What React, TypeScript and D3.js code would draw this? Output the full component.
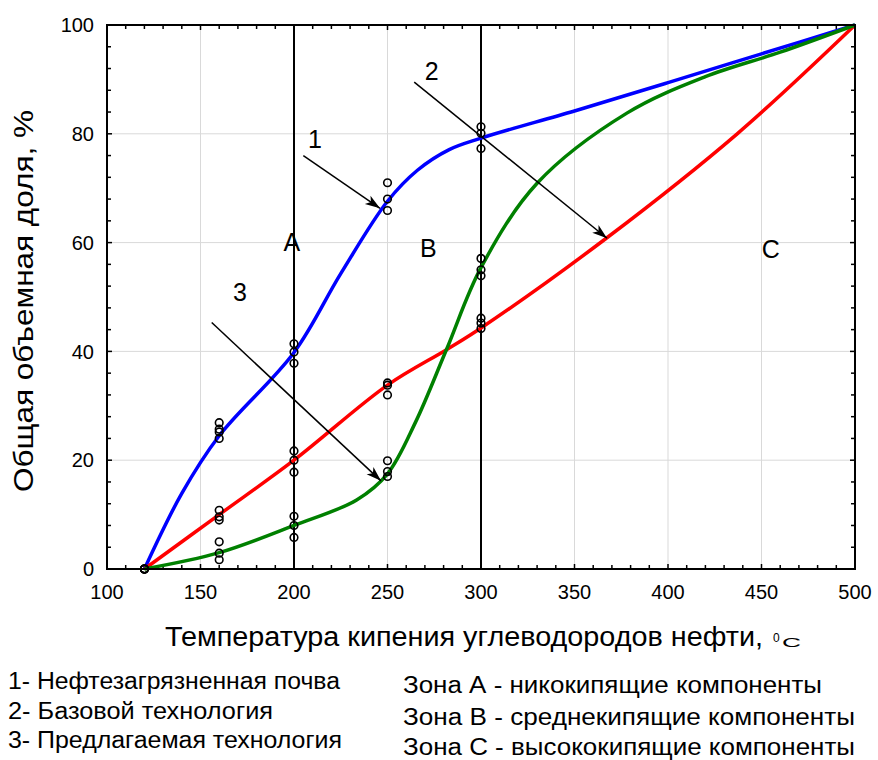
import React from 'react';
import * as d3 from 'd3';

// observed temperatures (°C) and the measured points at each
const obsTemps = [120, 160, 200, 250, 300];
const soilObs = [[0, 0], [26.9, 25.7, 25.2, 24.0], [41.4, 39.9, 37.8], [71.0, 68.0, 65.9], [81.3, 80.1, 77.3]];
const baseObs = [[0, 0], [10.8, 9.6, 9.0], [21.7, 20.0, 17.8], [34.2, 33.8, 32.0], [46.1, 45.2, 44.2]];
const newObs = [[0, 0], [5.0, 2.9, 1.7], [9.7, 8.0, 5.8], [19.9, 17.9, 17.0], [57.1, 55.0, 53.9]];

// fitted curves
const soilT = [120, 140, 160, 200, 225, 250, 266, 283, 300, 350, 400, 450, 500];
const soilV = [0, 13.9, 24.5, 39.8, 54.3, 67.6, 73.3, 77.1, 79.2, 84.2, 89.4, 94.7, 100];
const baseT = [120, 160, 200, 250, 282, 300, 367, 437, 500];
const baseV = [0, 10, 20, 33.8, 40.4, 44.3, 60.8, 80, 100];
const newT = [120, 160, 200, 233.5, 250, 265, 281.6, 300, 330, 378, 420, 460, 500];
const newV = [0, 3, 8, 12.7, 17.5, 27, 40.4, 55.4, 70.9, 83.8, 90.5, 95, 100];

const xTicks = [100, 150, 200, 250, 300, 350, 400, 450, 500];
const yTicks = [0, 20, 40, 60, 80, 100];
const zoneBounds = [200, 300];

const zoneLabels = [
  { t: 198.8, v: 58.5, text: 'A' },
  { t: 271.8, v: 57.4, text: 'B' },
  { t: 454.9, v: 57.1, text: 'C' },
];
const curveLabels = [
  { t: 211.2, v: 77.3, text: '1' },
  { t: 273.6, v: 89.9, text: '2' },
  { t: 171.1, v: 49.3, text: '3' },
];
const arrows = [
  { from: [205, 76.0], to: [246, 66.3] },
  { from: [264.3, 89.5], to: [367.4, 60.8] },
  { from: [156, 45.3], to: [246.5, 16.2] },
];

const legendLeft = ['1- Нефтезагрязненная почва', '2- Базовой технология', '3- Предлагаемая технология'];
const legendRight = ['Зона А - никокипящие компоненты', 'Зона В - среднекипящие компоненты', 'Зона С - высококипящие компоненты'];

const FONT = 'Liberation Sans, Arial, sans-serif';

export default function App() {
  const width = 878, height = 760;
  const x = d3.scaleLinear().domain([100, 500]).range([107, 855]);
  const y = d3.scaleLinear().domain([0, 100]).range([569, 25]);

  const curves = [
    { t: soilT, v: soilV, color: '#0000ff' },
    { t: baseT, v: baseV, color: '#ff0000' },
    { t: newT, v: newV, color: '#008000' },
  ];

  const pathOf = (t: number[], v: number[]) =>
    d3.line<number>().x(i => x(t[i])).y(i => y(v[i])).curve(d3.curveCatmullRom.alpha(0.5))(d3.range(t.length));

  const minorX = d3.range(100, 501, 10);
  const minorY = d3.range(0, 101, 4);
  const [x0, x1] = x.range();
  const [y0, y1] = y.range();

  return (
    <svg width={width} height={height} style={{ position: 'absolute', left: 0, top: 0, background: '#fff' }}
      fontFamily={FONT}>
      <defs>
        <marker id="ah" viewBox="-16 -6 18 12" markerWidth="18" markerHeight="12" refX="0" refY="0"
          orient="auto" markerUnits="userSpaceOnUse">
          <path d="M0,0 L-15,-5 L-11,0 L-15,5 Z" fill="#000" />
        </marker>
      </defs>
      <rect width={width} height={height} fill="#fff" />

      {/* grid */}
      {xTicks.filter(t => t > 100 && t < 500).map(t => (
        <line key={'gx' + t} x1={x(t)} x2={x(t)} y1={y1} y2={y0} stroke="#d9d9d9" strokeWidth={1} />
      ))}
      {yTicks.filter(t => t > 0 && t < 100).map(t => (
        <line key={'gy' + t} x1={x0} x2={x1} y1={y(t)} y2={y(t)} stroke="#d9d9d9" strokeWidth={1} />
      ))}

      {/* zone borders */}
      {zoneBounds.map(t => (
        <line key={'z' + t} x1={x(t)} x2={x(t)} y1={y1} y2={y0} stroke="#000" strokeWidth={2} />
      ))}

      {/* minor ticks on all sides, inward */}
      {minorX.map(t => (
        <g key={'tx' + t}>
          <line x1={x(t)} x2={x(t)} y1={y0} y2={y0 - (t % 50 === 0 ? 5 : 4)} stroke="#000" strokeWidth={1.5} />
          <line x1={x(t)} x2={x(t)} y1={y1} y2={y1 + (t % 50 === 0 ? 5 : 4)} stroke="#000" strokeWidth={1.5} />
        </g>
      ))}
      {minorY.map(t => (
        <g key={'ty' + t}>
          <line x1={x0} x2={x0 + (t % 20 === 0 ? 5 : 4)} y1={y(t)} y2={y(t)} stroke="#000" strokeWidth={1.5} />
          <line x1={x1} x2={x1 - (t % 20 === 0 ? 5 : 4)} y1={y(t)} y2={y(t)} stroke="#000" strokeWidth={1.5} />
        </g>
      ))}

      {/* curves */}
      {curves.map((c, i) => (
        <path key={'c' + i} d={pathOf(c.t, c.v) || ''} fill="none" stroke={c.color} strokeWidth={3.5} />
      ))}

      {/* observed points */}
      {[soilObs, baseObs, newObs].map((series, si) =>
        series.map((vals, ti) =>
          vals.map((v, k) => (
            <circle key={`o${si}-${ti}-${k}`} cx={x(obsTemps[ti])} cy={y(v)} r={3.8}
              fill="none" stroke="#000" strokeWidth={1.6} />
          ))
        )
      )}

      {/* arrows */}
      {arrows.map((a, i) => (
        <line key={'a' + i} x1={x(a.from[0])} y1={y(a.from[1])} x2={x(a.to[0])} y2={y(a.to[1])}
          stroke="#000" strokeWidth={1.5} markerEnd="url(#ah)" />
      ))}

      {/* annotation labels */}
      {zoneLabels.concat(curveLabels).map((l, i) => (
        <text key={'l' + i} x={x(l.t)} y={y(l.v)} fontSize={25} textAnchor="middle" fill="#000">{l.text}</text>
      ))}

      {/* frame */}
      <rect x={x0} y={y1} width={x1 - x0} height={y0 - y1} fill="none" stroke="#000" strokeWidth={2} />

      {/* tick labels */}
      {xTicks.map(t => (
        <text key={'xl' + t} x={x(t)} y={599} fontSize={20} textAnchor="middle">{t}</text>
      ))}
      {yTicks.map(t => (
        <text key={'yl' + t} x={94} y={y(t)} dy="0.36em" fontSize={20} textAnchor="end">{t}</text>
      ))}

      {/* axis titles */}
      <text x={165} y={646} fontSize={27} textLength={598} lengthAdjust="spacingAndGlyphs">
        Температура кипения углеводородов нефти,
      </text>
      <text x={773} y={642} fontSize={12}>0</text>
      <text x={782} y={647} fontSize={13} textLength={19} lengthAdjust="spacingAndGlyphs">C</text>
      <text transform="translate(33,301) rotate(-90)" fontSize={27} textAnchor="middle"
        textLength={382} lengthAdjust="spacingAndGlyphs">Общая объемная доля, %</text>

      {/* legend notes */}
      {legendLeft.map((s, i) => (
        <text key={'ll' + i} x={8} y={[689, 719, 748][i]} fontSize={23}
          textLength={[332, 265, 334][i]} lengthAdjust="spacingAndGlyphs">{s}</text>
      ))}
      {legendRight.map((s, i) => (
        <text key={'lr' + i} x={403} y={[693, 725, 755][i]} fontSize={23}
          textLength={[419, 452, 452][i]} lengthAdjust="spacingAndGlyphs">{s}</text>
      ))}
    </svg>
  );
}
